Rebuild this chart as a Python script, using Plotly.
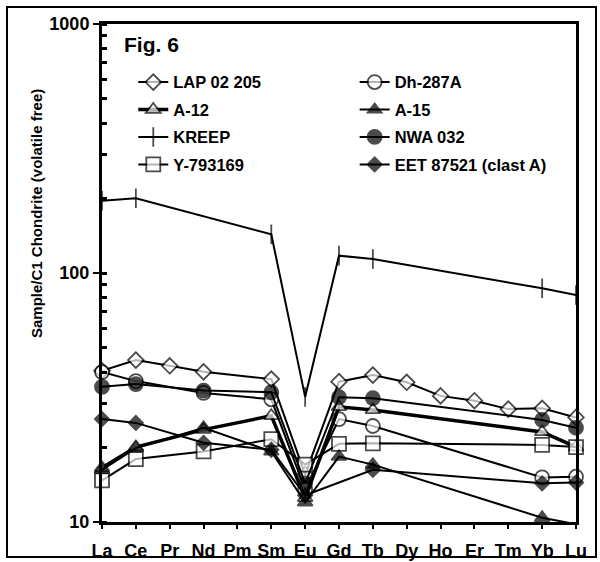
import plotly.graph_objects as go

elements = ["La", "Ce", "Pr", "Nd", "Pm", "Sm", "Eu", "Gd", "Tb", "Dy", "Ho", "Er", "Tm", "Yb", "Lu"]
N = None

lap_02205 = [40.5, 44.7, 42.4, 40.1, N, 37.5, 15.5, 36.6, 38.9, 36.4, 32.1, 30.7, 28.4, 28.6, 26.3]
dh_287a = [40.0, 36.8, N, 33.0, N, 31.1, 13.5, 25.9, 24.3, N, N, N, N, 15.1, 15.2]
a_12 = [16.5, 20.0, N, 23.5, N, 26.7, 12.5, 29.0, 28.2, N, N, N, N, 23.0, 20.0]
a_15 = [16.2, 19.8, N, 23.9, N, 19.2, 12.0, 18.3, 17.0, N, N, N, N, 10.4, 9.8]
kreep = [195, 199.5, N, N, N, 143, 31.8, 117.4, 113.8, N, N, N, N, 86.8, 81.6]
nwa_032 = [34.9, 35.8, N, 33.7, N, 33.2, 14.3, 31.7, 31.4, N, N, N, N, 25.7, 23.9]
y_793169 = [14.7, 17.9, N, 19.2, N, 21.5, 17.0, 20.6, 20.7, N, N, N, N, 20.4, 20.0]
eet_87521 = [25.9, 25.0, N, 20.8, N, 19.5, 12.8, N, 16.2, N, N, N, N, 14.3, 14.4]

series = [
    # name, data, symbol, fill, size, line width, legend, rank
    ("KREEP", kreep, "line-ns", "black", 14, 2, "legend", 3),
    ("LAP 02 205", lap_02205, "diamond", "white", 12, 2, "legend", 1),
    ("Dh-287A", dh_287a, "circle", "white", 14, 2, "legend2", 1),
    ("A-12", a_12, "triangle-up", "white", 13, 3.5, "legend", 2),
    ("Y-793169", y_793169, "square", "white", 14, 2, "legend", 4),
    ("EET 87521 (clast A)", eet_87521, "diamond", "black", 11, 2, "legend2", 4),
    ("A-15", a_15, "triangle-up", "black", 13, 2, "legend2", 2),
    ("NWA 032", nwa_032, "circle", "black", 14, 2, "legend2", 3),
]

fig = go.Figure()
for name, data, sym, fill, size, lw, leg, rank in series:
    sizes = [size] * len(data)
    if name == "A-15":
        sizes[-1] = 0
    fig.add_trace(go.Scatter(
        x=elements, y=data, name=name, mode="lines+markers",
        connectgaps=True, cliponaxis=False,
        line=dict(color="black", width=lw),
        marker=dict(symbol=sym, size=sizes, color=fill, line=dict(color="black", width=1.8)),
        legend=leg, legendrank=rank, legendgroup=name,
    ))

FONT = "Liberation Sans, Arial, sans-serif"
legend_font = dict(family=FONT, size=16.5, color="black", weight="bold")
fig.update_layout(
    width=600, height=562,
    margin=dict(l=102, r=24, t=24, b=40),
    paper_bgcolor="white", plot_bgcolor="white",
    showlegend=True,
    legend=dict(x=0.066, y=0.918, xanchor="left", yanchor="top", font=legend_font,
                bgcolor="rgba(0,0,0,0)", tracegroupgap=3, traceorder="grouped", itemwidth=30),
    legend2=dict(x=0.533, y=0.918, xanchor="left", yanchor="top", font=legend_font,
                 bgcolor="rgba(0,0,0,0)", tracegroupgap=3, traceorder="grouped", itemwidth=30),
    xaxis=dict(type="category", categoryarray=elements, range=[0, 14], automargin=False,
               showline=True, linecolor="black", linewidth=3, mirror=True,
               ticks="outside", ticklen=4, tickwidth=2, tickcolor="black",
               showgrid=False, zeroline=False, ticklabelstandoff=6,
               tickfont=dict(family=FONT, size=18, color="black", weight="bold")),
    yaxis=dict(type="log", range=[1, 3], dtick=1,
               automargin=False,
               showline=True, linecolor="black", linewidth=3, mirror=True,
               ticks="outside", ticklen=6, tickwidth=2, tickcolor="black",
               minor=dict(dtick="D1", ticks="inside", ticklen=5,
                          tickwidth=2.5, tickcolor="black", showgrid=False),
               showgrid=False, zeroline=False,
               tickfont=dict(family=FONT, size=18, color="black", weight="bold")),
    annotations=[
        dict(text="Fig. 6", x=(122 - 102) / 474, y=(522 - 44) / 498, xref="paper", yref="paper",
             xanchor="left", yanchor="middle", showarrow=False,
             font=dict(family=FONT, size=21, color="black", weight="bold")),
        dict(text="Sample/C1 Chondrite (volatile free)", textangle=-90,
             x=(37 - 102) / 474, y=(522 - 214) / 498, xref="paper", yref="paper",
             xanchor="center", yanchor="middle", showarrow=False,
             font=dict(family=FONT, size=15, color="black", weight="bold")),
    ],
    shapes=[
        dict(type="rect", xref="paper", yref="paper",
             x0=(7 - 102) / 474, x1=(596 - 102) / 474, y0=(522 - 557) / 498, y1=(522 - 7) / 498,
             line=dict(color="black", width=2), fillcolor="rgba(0,0,0,0)", layer="below"),
    ],
)

fig.write_html("out.html")
